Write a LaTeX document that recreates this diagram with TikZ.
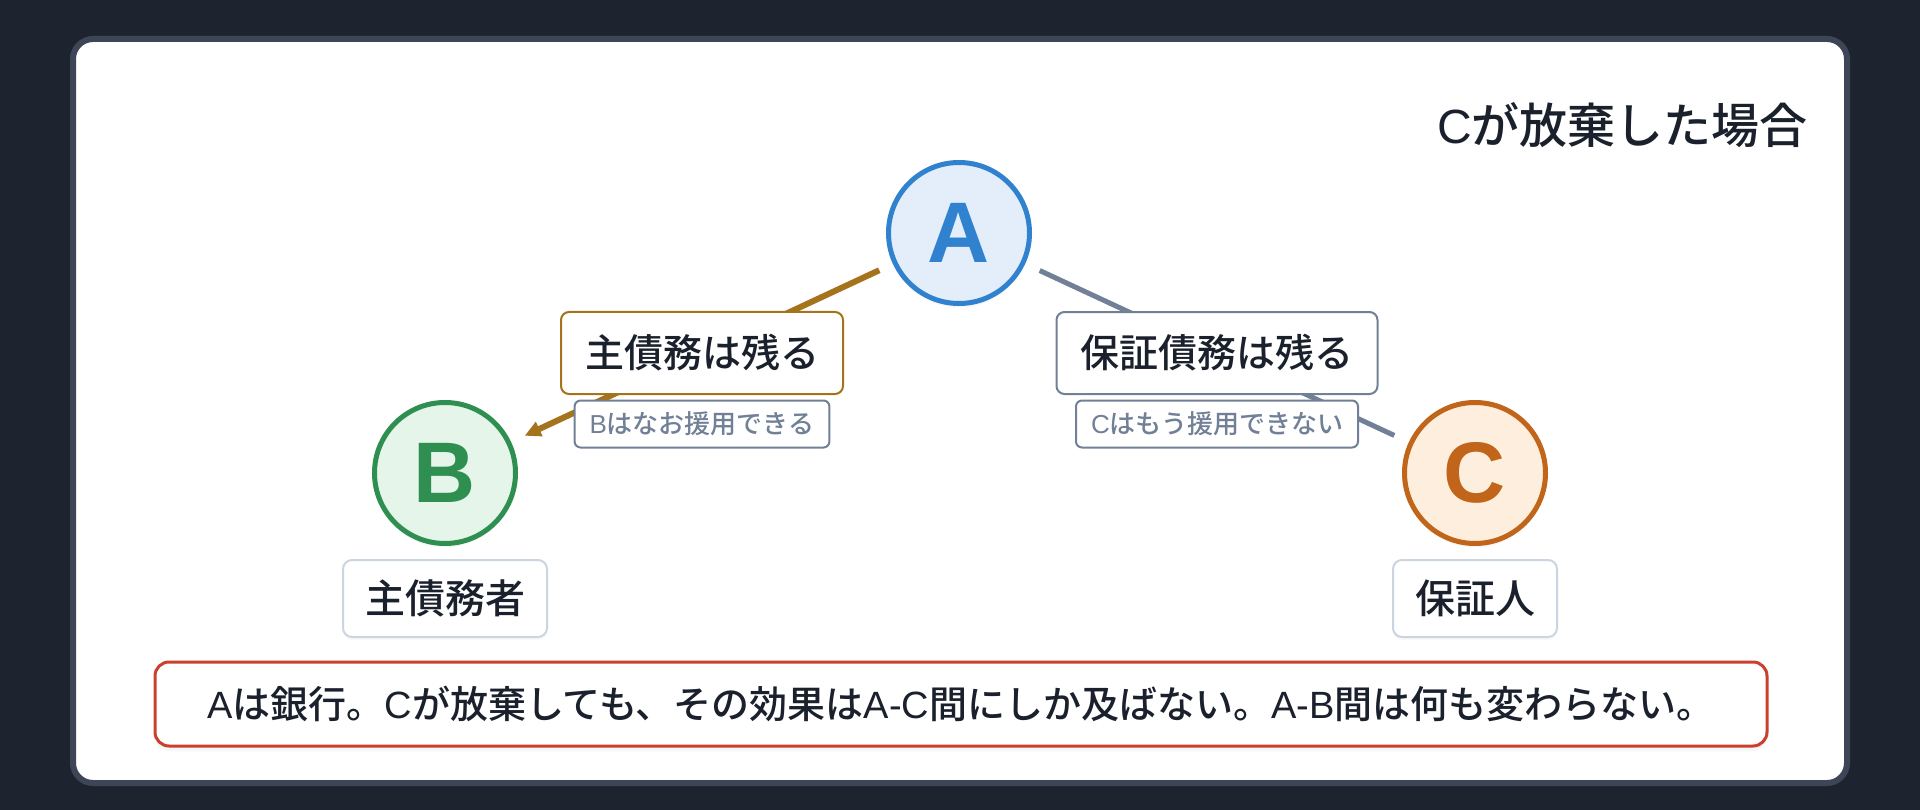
\documentclass[tikz,border=0pt]{standalone}
\usepackage{fontspec}
\setmainfont{Noto Sans CJK JP}[UprightFont=* Medium, BoldFont=* Bold]
\newfontfamily\lat{Liberation Sans}
\usetikzlibrary{arrows.meta,shadows}

\definecolor{bgdark}{HTML}{1E242F}
\definecolor{cardedge}{HTML}{3C4656}
\definecolor{ink}{HTML}{1A202C}
\definecolor{ablue}{HTML}{3182CE}
\definecolor{afill}{HTML}{E4EEFA}
\definecolor{bgreen}{HTML}{2F8F50}
\definecolor{bfill}{HTML}{E5F5E9}
\definecolor{corange}{HTML}{C0651A}
\definecolor{cfill}{HTML}{FDEEDD}
\definecolor{gold}{HTML}{A5731B}
\definecolor{slate}{HTML}{718096}
\definecolor{lightedge}{HTML}{CBD5E0}
\definecolor{noteedge}{HTML}{C9402C}

\tikzset{
  party/.style={circle, line width=5pt, inner sep=0pt, minimum size=141pt,
    font=\lat\bfseries\fontsize{86}{86}\selectfont,
    drop shadow={opacity=0.07, shadow xshift=0pt, shadow yshift=-4pt}},
  edgelab/.style={draw, fill=white, rounded corners=8pt, line width=2pt, text=ink,
    font=\fontsize{39}{39}\selectfont, inner xsep=24pt, inner ysep=0pt, minimum height=82pt},
  smalllab/.style={draw=slate, fill=white, rounded corners=6pt, line width=2pt, text=slate,
    font=\fontsize{26}{26}\selectfont, inner xsep=15pt, inner ysep=0pt, minimum height=47pt},
  rolelab/.style={draw=lightedge, fill=white, rounded corners=9pt, line width=2pt, text=ink,
    font=\fontsize{40}{40}\selectfont, inner xsep=22pt, inner ysep=0pt, minimum height=77pt,
    drop shadow={opacity=0.05, shadow xshift=0pt, shadow yshift=-3pt}},
  notebox/.style={draw=noteedge, fill=white, rounded corners=14pt, line width=3pt, text=ink,
    font=\fontsize{38}{38}\selectfont, minimum width=1612pt, minimum height=84pt, inner sep=0pt,
    drop shadow={opacity=0.07, shadow xshift=0pt, shadow yshift=-5pt}},
  goldline/.style={draw=gold, line width=6pt, shorten <=15pt, shorten >=15pt,
    -{Triangle[length=16pt,width=15pt]}},
  slateline/.style={draw=slate, line width=5pt, shorten <=16pt, shorten >=16pt},
}

\begin{document}
\begin{tikzpicture}[x=1pt,y=-1pt]
\useasboundingbox (0,0) rectangle (1920,810);
\fill[bgdark] (0,0) rectangle (1920,810);
\draw[line width=6pt, draw=cardedge, fill=white, rounded corners=20pt] (73,39) rectangle (1847,783);

\node[anchor=east, inner sep=0pt, text=ink, font=\fontsize{48}{48}\selectfont] (title) at (1808,125) {{\lat C}が放棄した場合};

\node[party, draw=ablue, fill=afill, text=ablue] (A) at (959,233) {A};
\node[party, draw=bgreen, fill=bfill, text=bgreen] (B) at (445,473) {B};
\node[party, draw=corange, fill=cfill, text=corange] (C) at (1475,473) {C};

\draw[goldline] (A) -- node[edgelab, draw=gold] (l1) {主債務は残る}
  node[smalllab, yshift=-71pt] (l1s) {{\lat B}はなお援用できる} (B);
\draw[slateline] (A) -- node[edgelab, draw=slate] (l2) {保証債務は残る}
  node[smalllab, yshift=-71pt] (l2s) {{\lat C}はもう援用できない} (C);

\node[rolelab] (rb) at (445,598.5) {主債務者};
\node[rolelab] (rc) at (1475,598.5) {保証人};

\node[notebox] (note) at (961,704) {{\lat A}は銀行。{\lat C}が放棄しても、その効果は{\lat A-C}間にしか及ばない。{\lat A-B}間は何も変わらない。};
\end{tikzpicture}
\end{document}
